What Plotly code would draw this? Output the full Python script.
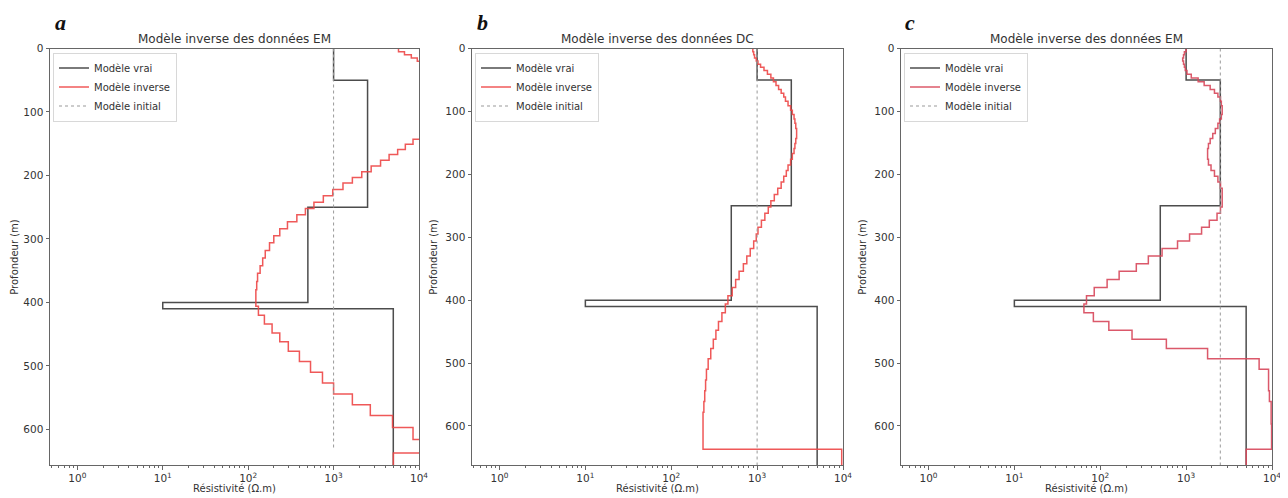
import numpy as np
import plotly.graph_objects as go

# ---------------- data ----------------
panel_letters = ["a", "b", "c"]
panel_titles = ["Modèle inverse des données EM",
                "Modèle inverse des données DC",
                "Modèle inverse des données EM"]
legend_names = ["Modèle vrai", "Modèle inverse", "Modèle initial"]
x_label = "Résistivité (Ω.m)"
y_label = "Profondeur (m)"

# true (synthetic) layered model: layer tops (m) and resistivities (ohm.m)
true_tops = [0, 50, 250, 400, 410]
true_rho = [1000, 2500, 500, 10, 5000]

# initial (homogeneous) model per panel
initial_rho = [1000, 1000, 2500]
initial_end_depth = [632, 700, 700]
model_end_depth = 700

# inversion mesh: layer tops (m)
inv_tops = [0, 5, 10, 15, 20, 25, 30, 35, 41, 47, 53, 59, 65, 71, 77, 84, 91, 98,
            105, 112, 119, 127, 135, 143, 151, 159, 167, 176, 185, 194, 203, 212,
            222, 232, 242, 252, 262, 273, 284, 295, 306, 318, 330, 342, 354, 367,
            380, 393, 406, 420, 434, 448, 462, 477, 493, 510, 527, 544, 561, 578,
            597, 616, 637]

# recovered models, log10(resistivity) per layer
inv_a_log10 = [3.76, 3.83, 3.91, 3.98, 4.06, 4.13, 4.19, 4.25, 4.30, 4.34,
               4.37, 4.40, 4.42, 4.43, 4.43, 4.42, 4.40, 4.37, 4.33, 4.27,
               4.19, 4.11, 4.02, 3.93, 3.84, 3.75, 3.65, 3.55, 3.44, 3.33,
               3.22, 3.11, 2.99, 2.88, 2.77, 2.67, 2.57, 2.46, 2.37, 2.30,
               2.25, 2.20, 2.17, 2.14, 2.11, 2.10, 2.09, 2.09, 2.12, 2.19,
               2.28, 2.37, 2.47, 2.60, 2.73, 2.87, 3.00, 3.22, 3.43, 3.69,
               3.93, 4.15, 3.70]
inv_b_log10 = [2.95, 2.96, 2.97, 2.99, 3.01, 3.04, 3.08, 3.12, 3.16, 3.19,
               3.22, 3.25, 3.28, 3.31, 3.33, 3.36, 3.39, 3.41, 3.43, 3.44,
               3.45, 3.46, 3.46, 3.45, 3.44, 3.43, 3.41, 3.39, 3.36, 3.34,
               3.31, 3.28, 3.24, 3.20, 3.16, 3.13, 3.09, 3.05, 3.01, 2.99,
               2.96, 2.92, 2.88, 2.84, 2.79, 2.75, 2.71, 2.66, 2.63, 2.59,
               2.55, 2.52, 2.49, 2.46, 2.43, 2.41, 2.40, 2.39, 2.38, 2.37,
               2.37, 2.37, 3.985]
inv_c_log10 = [3.00, 2.98, 2.97, 2.96, 2.97, 2.98, 2.99, 3.01, 3.06, 3.14,
               3.21, 3.28, 3.33, 3.37, 3.40, 3.41, 3.42, 3.42, 3.41, 3.39,
               3.37, 3.34, 3.31, 3.28, 3.26, 3.25, 3.25, 3.26, 3.29, 3.33,
               3.37, 3.40, 3.42, 3.42, 3.42, 3.40, 3.36, 3.27, 3.18, 3.04,
               2.90, 2.72, 2.56, 2.42, 2.22, 2.08, 1.93, 1.84, 1.81, 1.92,
               2.10, 2.37, 2.77, 3.25, 3.85, 3.96, 3.96, 3.97, 3.99, 3.99,
               3.995, 3.995, 3.70]
inv_models = [inv_a_log10, inv_b_log10, inv_c_log10]

xtick_vals = [1, 10, 100, 1000, 10000]
xtick_text = ["10<sup>0</sup>", "10<sup>1</sup>", "10<sup>2</sup>",
              "10<sup>3</sup>", "10<sup>4</sup>"]
ytick_vals = [0, 100, 200, 300, 400, 500, 600]

# ---------------- layout geometry (target page pixels) ----------------
PAGE_W, PAGE_H = 1288, 498
OFF = 8                      # default page body margin
W, H = PAGE_W - OFF, PAGE_H - OFF


def px_x(x):
    return (x - OFF) / W


def px_y(y):
    return (PAGE_H - y) / H


x_px = [(50, 419), (472, 843), (901, 1272)]
y_top, y_bot = 48.5, 465
y_ranges = [[656, 0], [662, 0], [662, 0]]
red_colors = ["#ee4747", "#ee4747", "#d8475a"]
black = "#3a3a3a"
axis_col = "#666666"
text_col = "#333333"
font_fam = "DejaVu Sans"

minor_vals = [k * 10.0 ** d for d in range(-1, 4) for k in range(2, 10)]

fig = go.Figure()
annotations = []
layout_axes = {}

for i in range(3):
    sfx = "" if i == 0 else str(i + 1)
    xa, ya = "x" + sfx, "y" + sfx
    leg = "legend" + sfx
    # true model
    fig.add_trace(go.Scatter(
        x=true_rho + [true_rho[-1]], y=true_tops + [model_end_depth],
        mode="lines", line=dict(color=black, width=1.5, shape="vh"),
        name=legend_names[0], xaxis=xa, yaxis=ya, legend=leg, opacity=0.9))
    # inverse model
    rho = [10 ** v for v in inv_models[i]]
    fig.add_trace(go.Scatter(
        x=rho + [rho[-1]], y=inv_tops + [model_end_depth],
        mode="lines", line=dict(color=red_colors[i], width=1.5, shape="vh"),
        name=legend_names[1], xaxis=xa, yaxis=ya, legend=leg, opacity=0.9))
    # initial model
    fig.add_trace(go.Scatter(
        x=[initial_rho[i], initial_rho[i]], y=[0, initial_end_depth[i]],
        mode="lines", line=dict(color="#999999", width=1, dash="dot"),
        name=legend_names[2], xaxis=xa, yaxis=ya, legend=leg))

    l, r = x_px[i]
    dom_x = [px_x(l), px_x(r)]
    dom_y = [px_y(y_bot), px_y(y_top)]
    layout_axes["xaxis" + sfx] = dict(
        type="log", range=[-0.32, 4.0], domain=dom_x, anchor=ya,
        automargin=False,
        showline=True, mirror=True, linecolor=axis_col, linewidth=1,
        ticks="outside", ticklen=3.5, tickcolor=axis_col, tickwidth=1,
        tickmode="array", tickvals=xtick_vals, ticktext=xtick_text,
        tickfont=dict(family=font_fam, size=10.5, color=text_col),
        showgrid=False, zeroline=False,
        minor=dict(ticks="outside", ticklen=2, tickcolor=axis_col,
                   tickmode="array", tickvals=minor_vals, showgrid=False))
    layout_axes["yaxis" + sfx] = dict(
        range=y_ranges[i], domain=dom_y, anchor=xa,
        automargin=False,
        showline=True, mirror=True, linecolor=axis_col, linewidth=1,
        ticks="outside", ticklen=3.5, tickcolor=axis_col, tickwidth=1,
        tickmode="array", tickvals=ytick_vals,
        tickfont=dict(family=font_fam, size=10.5, color=text_col),
        showgrid=False, zeroline=False)
    layout_axes[leg] = dict(
        x=px_x(l + 3), y=px_y(y_top + 4), xanchor="left", yanchor="top",
        bgcolor="rgba(255,255,255,0.85)", bordercolor="#d8d8d8", borderwidth=1,
        font=dict(family=font_fam, size=10, color=text_col),
        tracegroupgap=0, itemwidth=30)

    cx = (l + r) / 2
    annotations.append(dict(
        text=panel_titles[i], x=px_x(cx), y=px_y(39), xref="paper", yref="paper",
        showarrow=False, xanchor="center", yanchor="middle",
        font=dict(family=font_fam, size=12, color=text_col)))
    annotations.append(dict(
        text=x_label, x=px_x(cx), y=px_y(488), xref="paper", yref="paper",
        showarrow=False, xanchor="center", yanchor="middle",
        font=dict(family=font_fam, size=10, color=text_col)))
    annotations.append(dict(
        text=y_label, x=px_x(max(l - 38, 15)), y=px_y((y_top + y_bot) / 2),
        xref="paper", yref="paper", textangle=-90,
        showarrow=False, xanchor="center", yanchor="middle",
        font=dict(family=font_fam, size=10, color=text_col)))
    letter_x = [60, 482, 910][i]
    annotations.append(dict(
        text="<b><i>" + panel_letters[i] + "</i></b>", x=px_x(letter_x), y=px_y(22),
        xref="paper", yref="paper", showarrow=False,
        xanchor="center", yanchor="middle",
        font=dict(family="Liberation Serif", size=22, color="#111111")))

fig.update_layout(
    width=W, height=H, margin=dict(l=0, r=0, t=0, b=0, pad=0),
    paper_bgcolor="white", plot_bgcolor="white",
    annotations=annotations, **layout_axes)

fig.write_html("out.html")
